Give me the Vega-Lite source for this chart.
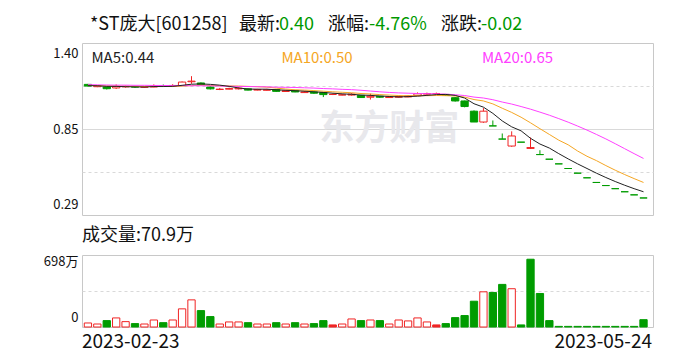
{
"$schema":"https://vega.github.io/schema/vega-lite/v6.json",
"padding":{"left":42,"top":15,"right":30,"bottom":5},
"background":"#ffffff",
"config":{"font":"Noto Sans CJK SC","view":{"stroke":"#c8c8c8","strokeWidth":1},
"axis":{"domain":false,"ticks":false,"title":null,"labelColor":"#111111","gridColor":"#d9d9d9","gridWidth":1},
"title":{"fontWeight":"normal","color":"#111111"}},
"datasets":{"k":[
{"d":"2023-02-23","o":1.133,"h":1.136,"l":1.12,"c":1.122,"v":39,"m5":1.125,"m10":1.126,"m20":1.131,"ct":"down","vt":"up"},
{"d":"2023-02-24","o":1.118,"h":1.128,"l":1.115,"c":1.125,"v":29,"m5":1.124,"m10":1.125,"m20":1.130,"ct":"up","vt":"up"},
{"d":"2023-02-27","o":1.116,"h":1.118,"l":1.10,"c":1.105,"v":62,"m5":1.120,"m10":1.123,"m20":1.129,"ct":"down","vt":"down"},
{"d":"2023-02-28","o":1.11,"h":1.133,"l":1.103,"c":1.12,"v":88,"m5":1.120,"m10":1.122,"m20":1.128,"ct":"up","vt":"up"},
{"d":"2023-03-01","o":1.117,"h":1.125,"l":1.112,"c":1.12,"v":52,"m5":1.118,"m10":1.121,"m20":1.128,"ct":"up","vt":"up"},
{"d":"2023-03-02","o":1.12,"h":1.122,"l":1.11,"c":1.115,"v":33,"m5":1.117,"m10":1.120,"m20":1.127,"ct":"down","vt":"down"},
{"d":"2023-03-03","o":1.114,"h":1.122,"l":1.112,"c":1.118,"v":29,"m5":1.116,"m10":1.120,"m20":1.127,"ct":"up","vt":"up"},
{"d":"2023-03-06","o":1.116,"h":1.133,"l":1.114,"c":1.122,"v":68,"m5":1.119,"m10":1.120,"m20":1.126,"ct":"up","vt":"up"},
{"d":"2023-03-07","o":1.124,"h":1.132,"l":1.116,"c":1.12,"v":42,"m5":1.119,"m10":1.120,"m20":1.126,"ct":"down","vt":"down"},
{"d":"2023-03-08","o":1.12,"h":1.134,"l":1.118,"c":1.126,"v":68,"m5":1.120,"m10":1.119,"m20":1.125,"ct":"up","vt":"up"},
{"d":"2023-03-09","o":1.125,"h":1.152,"l":1.122,"c":1.148,"v":176,"m5":1.127,"m10":1.122,"m20":1.125,"ct":"up","vt":"up"},
{"d":"2023-03-10","o":1.15,"h":1.186,"l":1.137,"c":1.154,"v":263,"m5":1.134,"m10":1.125,"m20":1.124,"ct":"up","vt":"up"},
{"d":"2023-03-13","o":1.142,"h":1.146,"l":1.128,"c":1.132,"v":159,"m5":1.136,"m10":1.128,"m20":1.124,"ct":"down","vt":"down"},
{"d":"2023-03-14","o":1.116,"h":1.12,"l":1.10,"c":1.104,"v":101,"m5":1.133,"m10":1.126,"m20":1.123,"ct":"down","vt":"down"},
{"d":"2023-03-15","o":1.10,"h":1.11,"l":1.096,"c":1.102,"v":29,"m5":1.128,"m10":1.124,"m20":1.122,"ct":"up","vt":"up"},
{"d":"2023-03-16","o":1.102,"h":1.112,"l":1.10,"c":1.106,"v":49,"m5":1.120,"m10":1.123,"m20":1.121,"ct":"up","vt":"up"},
{"d":"2023-03-17","o":1.104,"h":1.114,"l":1.10,"c":1.108,"v":49,"m5":1.110,"m10":1.122,"m20":1.120,"ct":"up","vt":"up"},
{"d":"2023-03-20","o":1.104,"h":1.106,"l":1.094,"c":1.096,"v":42,"m5":1.103,"m10":1.120,"m20":1.119,"ct":"down","vt":"down"},
{"d":"2023-03-21","o":1.096,"h":1.104,"l":1.094,"c":1.10,"v":29,"m5":1.102,"m10":1.118,"m20":1.118,"ct":"up","vt":"up"},
{"d":"2023-03-22","o":1.095,"h":1.104,"l":1.092,"c":1.098,"v":29,"m5":1.102,"m10":1.115,"m20":1.117,"ct":"up","vt":"up"},
{"d":"2023-03-23","o":1.099,"h":1.10,"l":1.085,"c":1.088,"v":42,"m5":1.098,"m10":1.109,"m20":1.115,"ct":"down","vt":"down"},
{"d":"2023-03-24","o":1.087,"h":1.097,"l":1.085,"c":1.092,"v":29,"m5":1.095,"m10":1.103,"m20":1.114,"ct":"up","vt":"up"},
{"d":"2023-03-27","o":1.094,"h":1.096,"l":1.082,"c":1.084,"v":42,"m5":1.092,"m10":1.098,"m20":1.113,"ct":"down","vt":"down"},
{"d":"2023-03-28","o":1.08,"h":1.09,"l":1.078,"c":1.084,"v":29,"m5":1.089,"m10":1.096,"m20":1.111,"ct":"up","vt":"up"},
{"d":"2023-03-29","o":1.084,"h":1.086,"l":1.072,"c":1.076,"v":33,"m5":1.085,"m10":1.093,"m20":1.109,"ct":"down","vt":"down"},
{"d":"2023-03-30","o":1.08,"h":1.082,"l":1.051,"c":1.067,"v":62,"m5":1.081,"m10":1.089,"m20":1.106,"ct":"down","vt":"down"},
{"d":"2023-03-31","o":1.068,"h":1.075,"l":1.064,"c":1.068,"v":20,"m5":1.076,"m10":1.085,"m20":1.104,"ct":"flat","vt":"flat"},
{"d":"2023-04-03","o":1.064,"h":1.072,"l":1.062,"c":1.066,"v":29,"m5":1.072,"m10":1.082,"m20":1.101,"ct":"up","vt":"up"},
{"d":"2023-04-04","o":1.064,"h":1.076,"l":1.06,"c":1.07,"v":78,"m5":1.069,"m10":1.079,"m20":1.099,"ct":"up","vt":"up"},
{"d":"2023-04-06","o":1.062,"h":1.064,"l":1.045,"c":1.048,"v":62,"m5":1.064,"m10":1.074,"m20":1.095,"ct":"down","vt":"down"},
{"d":"2023-04-07","o":1.05,"h":1.073,"l":1.035,"c":1.056,"v":68,"m5":1.062,"m10":1.071,"m20":1.090,"ct":"up","vt":"up"},
{"d":"2023-04-10","o":1.056,"h":1.058,"l":1.046,"c":1.05,"v":62,"m5":1.058,"m10":1.067,"m20":1.085,"ct":"down","vt":"down"},
{"d":"2023-04-11","o":1.048,"h":1.056,"l":1.046,"c":1.052,"v":29,"m5":1.055,"m10":1.064,"m20":1.081,"ct":"up","vt":"up"},
{"d":"2023-04-12","o":1.05,"h":1.06,"l":1.048,"c":1.055,"v":68,"m5":1.052,"m10":1.061,"m20":1.078,"ct":"up","vt":"up"},
{"d":"2023-04-13","o":1.052,"h":1.062,"l":1.05,"c":1.058,"v":59,"m5":1.054,"m10":1.059,"m20":1.076,"ct":"up","vt":"up"},
{"d":"2023-04-14","o":1.06,"h":1.081,"l":1.058,"c":1.072,"v":88,"m5":1.057,"m10":1.060,"m20":1.074,"ct":"up","vt":"up"},
{"d":"2023-04-17","o":1.07,"h":1.08,"l":1.066,"c":1.074,"v":49,"m5":1.062,"m10":1.060,"m20":1.073,"ct":"up","vt":"up"},
{"d":"2023-04-18","o":1.074,"h":1.08,"l":1.07,"c":1.074,"v":20,"m5":1.067,"m10":1.061,"m20":1.072,"ct":"flat","vt":"flat"},
{"d":"2023-04-19","o":1.068,"h":1.07,"l":1.058,"c":1.062,"v":33,"m5":1.068,"m10":1.060,"m20":1.070,"ct":"down","vt":"down"},
{"d":"2023-04-20","o":1.047,"h":1.05,"l":1.022,"c":1.026,"v":91,"m5":1.062,"m10":1.058,"m20":1.066,"ct":"down","vt":"down"},
{"d":"2023-04-21","o":1.026,"h":1.028,"l":0.985,"c":0.99,"v":111,"m5":1.045,"m10":1.051,"m20":1.061,"ct":"down","vt":"down"},
{"d":"2023-04-24","o":0.96,"h":0.965,"l":0.89,"c":0.89,"v":250,"m5":1.008,"m10":1.035,"m20":1.051,"ct":"down","vt":"down"},
{"d":"2023-04-25","o":0.89,"h":0.98,"l":0.885,"c":0.96,"v":341,"m5":0.986,"m10":1.026,"m20":1.045,"ct":"up","vt":"up"},
{"d":"2023-04-26","o":0.865,"h":0.90,"l":0.865,"c":0.865,"v":335,"m5":0.946,"m10":1.007,"m20":1.034,"ct":"down","vt":"down"},
{"d":"2023-04-27","o":0.78,"h":0.816,"l":0.78,"c":0.78,"v":413,"m5":0.897,"m10":0.979,"m20":1.019,"ct":"down","vt":"down"},
{"d":"2023-04-28","o":0.735,"h":0.83,"l":0.73,"c":0.80,"v":371,"m5":0.859,"m10":0.952,"m20":1.006,"ct":"up","vt":"up"},
{"d":"2023-05-05","o":0.76,"h":0.76,"l":0.76,"c":0.76,"v":20,"m5":0.833,"m10":0.921,"m20":0.990,"ct":"down","vt":"down"},
{"d":"2023-05-08","o":0.725,"h":0.79,"l":0.718,"c":0.72,"v":657,"m5":0.785,"m10":0.885,"m20":0.973,"ct":"flat","vt":"down"},
{"d":"2023-05-09","o":0.68,"h":0.708,"l":0.68,"c":0.68,"v":325,"m5":0.748,"m10":0.847,"m20":0.954,"ct":"down","vt":"down"},
{"d":"2023-05-10","o":0.65,"h":0.65,"l":0.65,"c":0.65,"v":62,"m5":0.722,"m10":0.810,"m20":0.934,"ct":"down","vt":"down"},
{"d":"2023-05-11","o":0.62,"h":0.62,"l":0.62,"c":0.62,"v":6,"m5":0.686,"m10":0.773,"m20":0.912,"ct":"down","vt":"down"},
{"d":"2023-05-12","o":0.59,"h":0.59,"l":0.59,"c":0.59,"v":6,"m5":0.652,"m10":0.743,"m20":0.889,"ct":"down","vt":"down"},
{"d":"2023-05-15","o":0.56,"h":0.56,"l":0.56,"c":0.56,"v":6,"m5":0.620,"m10":0.703,"m20":0.864,"ct":"down","vt":"down"},
{"d":"2023-05-16","o":0.53,"h":0.53,"l":0.53,"c":0.53,"v":6,"m5":0.590,"m10":0.669,"m20":0.838,"ct":"down","vt":"down"},
{"d":"2023-05-17","o":0.50,"h":0.50,"l":0.50,"c":0.50,"v":6,"m5":0.560,"m10":0.641,"m20":0.810,"ct":"down","vt":"down"},
{"d":"2023-05-18","o":0.48,"h":0.48,"l":0.48,"c":0.48,"v":6,"m5":0.532,"m10":0.609,"m20":0.781,"ct":"down","vt":"down"},
{"d":"2023-05-19","o":0.46,"h":0.46,"l":0.46,"c":0.46,"v":6,"m5":0.506,"m10":0.579,"m20":0.750,"ct":"down","vt":"down"},
{"d":"2023-05-22","o":0.44,"h":0.44,"l":0.44,"c":0.44,"v":6,"m5":0.482,"m10":0.551,"m20":0.718,"ct":"down","vt":"down"},
{"d":"2023-05-23","o":0.42,"h":0.42,"l":0.42,"c":0.42,"v":6,"m5":0.460,"m10":0.525,"m20":0.686,"ct":"down","vt":"down"},
{"d":"2023-05-24","o":0.40,"h":0.40,"l":0.40,"c":0.40,"v":70.9,"m5":0.440,"m10":0.500,"m20":0.655,"ct":"down","vt":"down"}
]},
"spacing":10,
"vconcat":[
{
"width":571,"height":172,
"data":{"name":"k"},
"encoding":{"x":{"field":"d","type":"ordinal","axis":null,"scale":{"paddingInner":0.224,"paddingOuter":0.43,"align":0.28}}},
"layer":[
{"data":{"values":[{}]},"mark":{"type":"text","text":"东方财富","fontSize":35,"fontWeight":"bold","color":"#e8e8ec","align":"center","baseline":"middle"},
 "encoding":{"x":{"datum":"2023-04-11","type":"ordinal"},"y":{"datum":0.845,"type":"quantitative"}}},
{"mark":{"type":"rule","strokeWidth":1},
 "encoding":{
  "y":{"field":"l","type":"quantitative","scale":{"domain":[0.29,1.4],"nice":false,"zero":false},
   "axis":{"values":[0.29,0.5675,0.845,1.1225,1.4],
    "labelExpr":"datum.value < 0.3 ? '0.29' : (abs(datum.value-0.845) < 0.001 ? '0.85' : (datum.value > 1.39 ? '1.40' : ''))",
    "grid":true,
    "gridDash":{"condition":{"test":"abs(datum.value-0.5675)<0.001 || abs(datum.value-1.1225)<0.001","value":[3,3]},"value":[]},
    "gridOpacity":{"condition":{"test":"datum.value < 0.3 || datum.value > 1.39","value":0},"value":1},
    "labelFlush":true,"labelFlushOffset":-4,"labelFontSize":13,"labelPadding":4}},
  "y2":{"field":"h"},
  "stroke":{"field":"ct","type":"nominal","scale":{"domain":["up","down","flat"],"range":["#f02424","#009c00","#f02424"]},"legend":null}}},
{"mark":{"type":"bar","strokeWidth":1},
 "encoding":{
  "y":{"field":"o","type":"quantitative"},
  "y2":{"field":"c"},
  "fill":{"field":"ct","type":"nominal","scale":{"domain":["up","down","flat"],"range":["#ffffff","#009c00","#f02424"]},"legend":null},
  "stroke":{"field":"ct","type":"nominal","legend":null}}},
{"mark":{"type":"line","strokeWidth":1,"color":"#f5a623"},"encoding":{"y":{"field":"m10","type":"quantitative"}}},
{"mark":{"type":"line","strokeWidth":1,"color":"#ff40ff"},"encoding":{"y":{"field":"m20","type":"quantitative"}}},
{"mark":{"type":"line","strokeWidth":1,"color":"#222222"},"encoding":{"y":{"field":"m5","type":"quantitative"}}},
{"data":{"values":[{}]},"mark":{"type":"text","text":"*ST庞大[601258]","fontSize":18,"color":"#111111","align":"left","baseline":"alphabetic","dx":2,"dy":-13.5},
 "encoding":{"x":{"datum":"2023-02-23","type":"ordinal"},"y":{"datum":1.4,"type":"quantitative"}}},
{"data":{"values":[{}]},"mark":{"type":"text","text":"最新:","fontSize":18,"color":"#111111","align":"left","baseline":"alphabetic","dx":151,"dy":-13.5},
 "encoding":{"x":{"datum":"2023-02-23","type":"ordinal"},"y":{"datum":1.4,"type":"quantitative"}}},
{"data":{"values":[{}]},"mark":{"type":"text","text":"0.40","fontSize":18,"color":"#009900","align":"left","baseline":"alphabetic","dx":191,"dy":-13.5},
 "encoding":{"x":{"datum":"2023-02-23","type":"ordinal"},"y":{"datum":1.4,"type":"quantitative"}}},
{"data":{"values":[{}]},"mark":{"type":"text","text":"涨幅:","fontSize":18,"color":"#111111","align":"left","baseline":"alphabetic","dx":240,"dy":-13.5},
 "encoding":{"x":{"datum":"2023-02-23","type":"ordinal"},"y":{"datum":1.4,"type":"quantitative"}}},
{"data":{"values":[{}]},"mark":{"type":"text","text":"-4.76%","fontSize":18,"color":"#009900","align":"left","baseline":"alphabetic","dx":281,"dy":-13.5},
 "encoding":{"x":{"datum":"2023-02-23","type":"ordinal"},"y":{"datum":1.4,"type":"quantitative"}}},
{"data":{"values":[{}]},"mark":{"type":"text","text":"涨跌:","fontSize":18,"color":"#111111","align":"left","baseline":"alphabetic","dx":353,"dy":-13.5},
 "encoding":{"x":{"datum":"2023-02-23","type":"ordinal"},"y":{"datum":1.4,"type":"quantitative"}}},
{"data":{"values":[{}]},"mark":{"type":"text","text":"-0.02","fontSize":18,"color":"#009900","align":"left","baseline":"alphabetic","dx":393,"dy":-13.5},
 "encoding":{"x":{"datum":"2023-02-23","type":"ordinal"},"y":{"datum":1.4,"type":"quantitative"}}},
{"data":{"values":[{}]},"mark":{"type":"text","text":"MA5:0.44","fontSize":15,"color":"#222222","align":"left","baseline":"alphabetic","dx":3.5,"dy":20},
 "encoding":{"x":{"datum":"2023-02-23","type":"ordinal"},"y":{"datum":1.4,"type":"quantitative"}}},
{"data":{"values":[{}]},"mark":{"type":"text","text":"MA10:0.50","fontSize":15,"color":"#f5a623","align":"left","baseline":"alphabetic","dx":193.5,"dy":20},
 "encoding":{"x":{"datum":"2023-02-23","type":"ordinal"},"y":{"datum":1.4,"type":"quantitative"}}},
{"data":{"values":[{}]},"mark":{"type":"text","text":"MA20:0.65","fontSize":15,"color":"#ff40ff","align":"left","baseline":"alphabetic","dx":394,"dy":20},
 "encoding":{"x":{"datum":"2023-02-23","type":"ordinal"},"y":{"datum":1.4,"type":"quantitative"}}}
]
},
{
"width":571,"height":72,
"data":{"name":"k"},
"title":{"text":"成交量:70.9万","anchor":"start","frame":"group","fontSize":18,"offset":10},
"mark":{"type":"bar","strokeWidth":1},
"encoding":{
 "x":{"field":"d","type":"ordinal","scale":{"paddingInner":0.224,"paddingOuter":0.43,"align":0.28},
  "axis":{"values":["2023-02-23","2023-05-24"],"labelAngle":0,"labelFontSize":19,"labelPadding":5,
   "labelAlign":{"condition":{"test":"datum.value=='2023-02-23'","value":"left"},"value":"right"},
   "labelOffset":{"condition":{"test":"datum.value=='2023-02-23'","value":-6},"value":8.5}}},
 "y":{"field":"v","type":"quantitative","scale":{"domain":[0,698],"nice":false},
  "axis":{"values":[0,349,698],
   "labelExpr":"datum.value == 698 ? '698万' : (datum.value == 0 ? '0' : '')",
   "grid":true,
   "gridDash":{"condition":{"test":"datum.value == 349","value":[3,3]},"value":[]},
   "gridOpacity":{"condition":{"test":"datum.value == 349","value":1},"value":0},
   "labelOffset":{"condition":{"test":"datum.value == 0","value":-3},"value":0},
   "labelFlush":true,"labelFontSize":13,"labelPadding":4}},
 "fill":{"field":"vt","type":"nominal","scale":{"domain":["up","down","flat"],"range":["#ffffff","#009c00","#f02424"]},"legend":null},
 "stroke":{"field":"vt","type":"nominal","scale":{"domain":["up","down","flat"],"range":["#f02424","#009c00","#f02424"]},"legend":null}}
}
]
}
